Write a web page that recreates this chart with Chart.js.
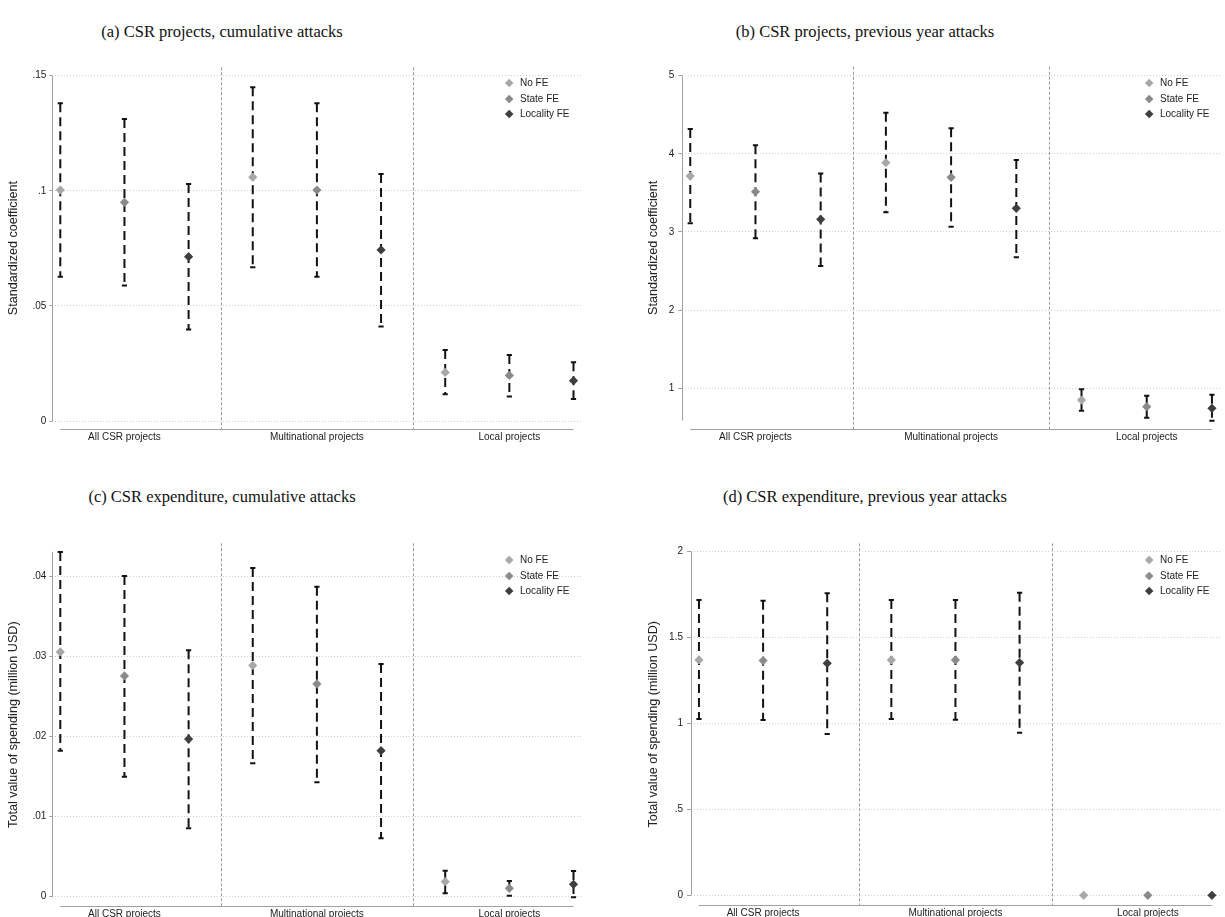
<!DOCTYPE html>
<html>
<head>
<meta charset="utf-8">
<title>CSR projects and expenditure after attacks</title>
<script src="https://cdn.jsdelivr.net/npm/chart.js@4.4.1/dist/chart.umd.min.js"></script>
<style>
  html, body { margin: 0; padding: 0; background: #fff; }
  body { width: 1225px; height: 917px; position: relative; overflow: hidden;
         font-family: "Liberation Sans", Arial, sans-serif; }
  canvas { position: absolute; }
  .ptitle { position: absolute; font-family: "Liberation Serif", "DejaVu Serif", serif;
            font-size: 16.5px; color: #111; white-space: nowrap; transform: translate(-50%, -50%); }
  .lg-mark { position: absolute; width: 6.4px; height: 6.4px; transform: rotate(45deg); }
  .lg-text { position: absolute; font-size: 10px; line-height: 12px; color: #222; white-space: nowrap; }
</style>
</head>
<body>
<script>
// Categories and specifications
const groups = ['All CSR projects', 'Multinational projects', 'Local projects'];
const specs = ['No FE', 'State FE', 'Locality FE'];
const specColors = ['#a8a8a8', '#8a8a8a', '#3f3f3f'];

// (a) CSR projects, cumulative attacks
const aNoFE     = [0.1003, 0.1059, 0.0211];
const aNoFELo   = [0.0627, 0.0668, 0.0116];
const aNoFEHi   = [0.1380, 0.1450, 0.0308];
const aState    = [0.0950, 0.1003, 0.0198];
const aStateLo  = [0.0589, 0.0627, 0.0106];
const aStateHi  = [0.1312, 0.1380, 0.0287];
const aLocal    = [0.0714, 0.0743, 0.0175];
const aLocalLo  = [0.0398, 0.0410, 0.0096];
const aLocalHi  = [0.1030, 0.1073, 0.0255];
const aTicks    = [0, 0.05, 0.1, 0.15];

// (b) CSR projects, previous year attacks
const bNoFE     = [3.716, 3.886, 0.850];
const bNoFELo   = [3.111, 3.252, 0.714];
const bNoFEHi   = [4.317, 4.526, 0.987];
const bState    = [3.515, 3.699, 0.765];
const bStateLo  = [2.919, 3.067, 0.624];
const bStateHi  = [4.109, 4.326, 0.905];
const bLocal    = [3.162, 3.303, 0.744];
const bLocalLo  = [2.565, 2.676, 0.586];
const bLocalHi  = [3.750, 3.921, 0.918];
const bTicks    = [1, 2, 3, 4, 5];

// (c) CSR expenditure, cumulative attacks
const cNoFE     = [0.0306, 0.0289, 0.00188];
const cNoFELo   = [0.01825, 0.01667, 0.00042];
const cNoFEHi   = [0.0431, 0.0411, 0.00325];
const cState    = [0.0276, 0.0266, 0.00105];
const cStateLo  = [0.0150, 0.0143, 0.00013];
const cStateHi  = [0.0401, 0.03875, 0.00196];
const cLocal    = [0.0197, 0.01825, 0.00155];
const cLocalLo  = [0.00855, 0.0073, -0.00008];
const cLocalHi  = [0.0308, 0.0291, 0.0032];
const cTicks    = [0, 0.01, 0.02, 0.03, 0.04];

// (d) CSR expenditure, previous year attacks
const dNoFE     = [1.370, 1.370, 0];
const dNoFELo   = [1.026, 1.026, 0];
const dNoFEHi   = [1.719, 1.719, 0];
const dState    = [1.366, 1.370, 0];
const dStateLo  = [1.020, 1.022, 0];
const dStateHi  = [1.715, 1.719, 0];
const dLocal    = [1.350, 1.354, 0];
const dLocalLo  = [0.939, 0.946, 0];
const dLocalHi  = [1.758, 1.761, 0];
const dTicks    = [0, 0.5, 1, 1.5, 2];

// Stata-style number labels: ".05", "1.5", "0"
function stataFmt(v) {
  const s = String(+Number(v).toFixed(6));
  return s.replace(/^0\./, '.').replace(/^-0\./, '-.');
}

// slot on the x axis: three specifications inside each group
const slot = (g, s) => g * specs.length + s + 1;
const nSlots = groups.length * specs.length;

// Panel layout: canvas box plus the plot region inside it
const panels = [
  { id: 'a', title: '(a) CSR projects, cumulative attacks', yTitle: 'Standardized coefficient',
    coef: [aNoFE, aState, aLocal], lo: [aNoFELo, aStateLo, aLocalLo], hi: [aNoFEHi, aStateHi, aLocalHi], ticks: aTicks,
    box: { left: 0, top: 45, width: 600, height: 410 }, area: { left: 52.3, top: 67.3, right: 582, bottom: 429 },
    yMin: -0.003475, yMax: 0.15365, tickLen: 3, tickPad: 3, titleX: 222, titleY: 32, legX: 509.3, legY: 83 },
  { id: 'b', title: '(b) CSR projects, previous year attacks', yTitle: 'Standardized coefficient',
    coef: [bNoFE, bState, bLocal], lo: [bNoFELo, bStateLo, bLocalLo], hi: [bNoFEHi, bStateHi, bLocalHi], ticks: bTicks,
    box: { left: 612, top: 45, width: 613, height: 410 }, area: { left: 682.3, top: 66.7, right: 1223, bottom: 429 },
    yMin: 0.4793, yMax: 5.115, tickLen: 4, tickPad: 4, titleX: 865, titleY: 32, legX: 1149.3, legY: 83 },
  { id: 'c', title: '(c) CSR expenditure, cumulative attacks', yTitle: 'Total value of spending (million USD)',
    coef: [cNoFE, cState, cLocal], lo: [cNoFELo, cStateLo, cLocalLo], hi: [cNoFEHi, cStateHi, cLocalHi], ticks: cTicks,
    box: { left: 0, top: 515, width: 600, height: 402 }, area: { left: 52.3, top: 543.3, right: 582, bottom: 906 },
    yMin: -0.00116, yMax: 0.044175, tickLen: 3, tickPad: 3, titleX: 222, titleY: 497, legX: 509.3, legY: 560 },
  { id: 'd', title: '(d) CSR expenditure, previous year attacks', yTitle: 'Total value of spending (million USD)',
    coef: [dNoFE, dState, dLocal], lo: [dNoFELo, dStateLo, dLocalLo], hi: [dNoFEHi, dStateHi, dLocalHi], ticks: dTicks,
    box: { left: 612, top: 515, width: 613, height: 402 }, area: { left: 691, top: 543.3, right: 1223, bottom: 905.3 },
    yMin: -0.0582, yMax: 2.0489, tickLen: 4, tickPad: 4, titleX: 865, titleY: 497, legX: 1149.3, legY: 560 }
];

// Axis lines over the data range and dashed separators between groups
const framePlugin = {
  id: 'stataFrame',
  beforeDatasetsDraw(chart) {
    const { ctx, chartArea, scales: { x, y } } = chart;
    const p = chart.options.plugins.stataFrame;
    ctx.save();
    ctx.strokeStyle = '#9a9a9a';
    ctx.lineWidth = 1;
    ctx.setLineDash([3, 2]);
    for (let g = 1; g < groups.length; g++) {
      const px = Math.round(x.getPixelForValue(g * specs.length + 0.5)) + 0.5;
      ctx.beginPath();
      ctx.moveTo(px, chartArea.top);
      ctx.lineTo(px, chartArea.bottom);
      ctx.stroke();
    }
    ctx.setLineDash([]);
    ctx.strokeStyle = '#a0a0a0';
    // y axis line
    const yl = Math.round(chartArea.left) + 0.5;
    ctx.beginPath();
    ctx.moveTo(yl, y.getPixelForValue(p.axisHi));
    ctx.lineTo(yl, y.getPixelForValue(p.axisLo));
    ctx.stroke();
    // x axis line
    const xl = Math.round(chartArea.bottom) + 0.5;
    ctx.beginPath();
    ctx.moveTo(x.getPixelForValue(1), xl);
    ctx.lineTo(x.getPixelForValue(nSlots), xl);
    ctx.stroke();
    ctx.restore();
  }
};

function buildPanel(p) {
  const canvas = document.createElement('canvas');
  canvas.width = p.box.width;
  canvas.height = p.box.height;
  canvas.style.left = p.box.left + 'px';
  canvas.style.top = p.box.top + 'px';
  document.body.appendChild(canvas);

  const datasets = [];
  specs.forEach((name, s) => {
    datasets.push({
      label: name,
      data: p.coef[s].map((v, g) => ({ x: slot(g, s), y: v })),
      pointStyle: 'rectRot',
      pointRadius: 4.6,
      pointHoverRadius: 4.6,
      backgroundColor: specColors[s],
      borderColor: specColors[s],
      pointBorderWidth: 0,
      order: 0
    });
  });
  specs.forEach((name, s) => {
    p.coef[s].forEach((v, g) => {
      datasets.push({
        label: name + ' CI',
        isInterval: true,
        data: [{ x: slot(g, s), y: p.hi[s][g] }, { x: slot(g, s), y: p.lo[s][g] }],
        showLine: true,
        borderColor: '#111',
        borderWidth: 2,
        borderDash: [9, 5],
        pointStyle: 'line',
        pointRadius: 2.6,
        pointHoverRadius: 2.6,
        pointBorderWidth: 2,
        pointBorderColor: '#111',
        backgroundColor: '#111',
        order: 1
      });
    });
  });

  const allLo = [].concat(...p.lo, p.ticks);
  const allHi = [].concat(...p.hi, p.ticks);

  const leftPad = p.area.left - p.box.left;
  const bottomPad = p.box.top + p.box.height - p.area.bottom;
  // x range leaves the same few pixels of air on both sides as on the y axis
  const plotW = p.area.right - p.area.left;
  const perSlot = (plotW - 16.5) / (nSlots - 1);

  const chart = new Chart(canvas, {
    type: 'scatter',
    data: { datasets },
    options: {
      responsive: false,
      animation: false,
      events: [],
      layout: { padding: { left: 0, top: p.area.top - p.box.top, right: p.box.left + p.box.width - p.area.right, bottom: 0 } },
      plugins: {
        legend: { display: false },
        tooltip: { enabled: false },
        stataFrame: { axisLo: Math.min(...allLo), axisHi: Math.max(...allHi) }
      },
      scales: {
        x: {
          type: 'linear',
          min: 1 - 8 / perSlot,
          max: nSlots + 8.5 / perSlot,
          afterBuildTicks: (scale) => { scale.ticks = groups.map((_, g) => ({ value: slot(g, 1) })); },
          afterFit: (scale) => { scale.height = bottomPad; },
          ticks: {
            autoSkip: false, maxRotation: 0, padding: 2,
            color: '#222', font: { family: '"Liberation Sans", Arial, sans-serif', size: 10 },
            callback: (v) => groups[Math.round((v - 2) / specs.length)]
          },
          grid: { display: false, drawTicks: false },
          border: { display: false }
        },
        y: {
          type: 'linear',
          min: p.yMin,
          max: p.yMax,
          afterBuildTicks: (scale) => { scale.ticks = p.ticks.map((v) => ({ value: v })); },
          afterFit: (scale) => { scale.width = leftPad; },
          ticks: {
            padding: p.tickPad, color: '#222',
            font: { family: '"Liberation Sans", Arial, sans-serif', size: 10 },
            callback: (v) => stataFmt(v)
          },
          grid: { color: '#cfcfcf', lineWidth: 1, drawTicks: true, tickLength: p.tickLen, tickColor: '#a0a0a0', tickBorderDash: [] },
          border: { display: false, dash: [1, 2] },
          title: {
            display: true, text: p.yTitle, color: '#222',
            font: { family: '"Liberation Sans", Arial, sans-serif', size: 12.6 },
            padding: { top: p.id === 'a' || p.id === 'c' ? 6.4 : 34.4, bottom: 0 }
          }
        }
      }
    },
    plugins: [framePlugin]
  });

  // panel caption
  const t = document.createElement('div');
  t.className = 'ptitle';
  t.textContent = p.title;
  t.style.left = p.titleX + 'px';
  t.style.top = p.titleY + 'px';
  document.body.appendChild(t);

  // legend built from the marker datasets
  chart.data.datasets.filter((d) => !d.isInterval).forEach((d, i) => {
    const cy = p.legY + i * 15.7;
    const m = document.createElement('div');
    m.className = 'lg-mark';
    m.style.background = d.backgroundColor;
    m.style.left = (p.legX - 3.2) + 'px';
    m.style.top = (cy - 3.2) + 'px';
    document.body.appendChild(m);
    const tx = document.createElement('div');
    tx.className = 'lg-text';
    tx.textContent = d.label;
    tx.style.left = (p.legX + 10.7) + 'px';
    tx.style.top = (cy - 6) + 'px';
    document.body.appendChild(tx);
  });
}

panels.forEach(buildPanel);
</script>
</body>
</html>
